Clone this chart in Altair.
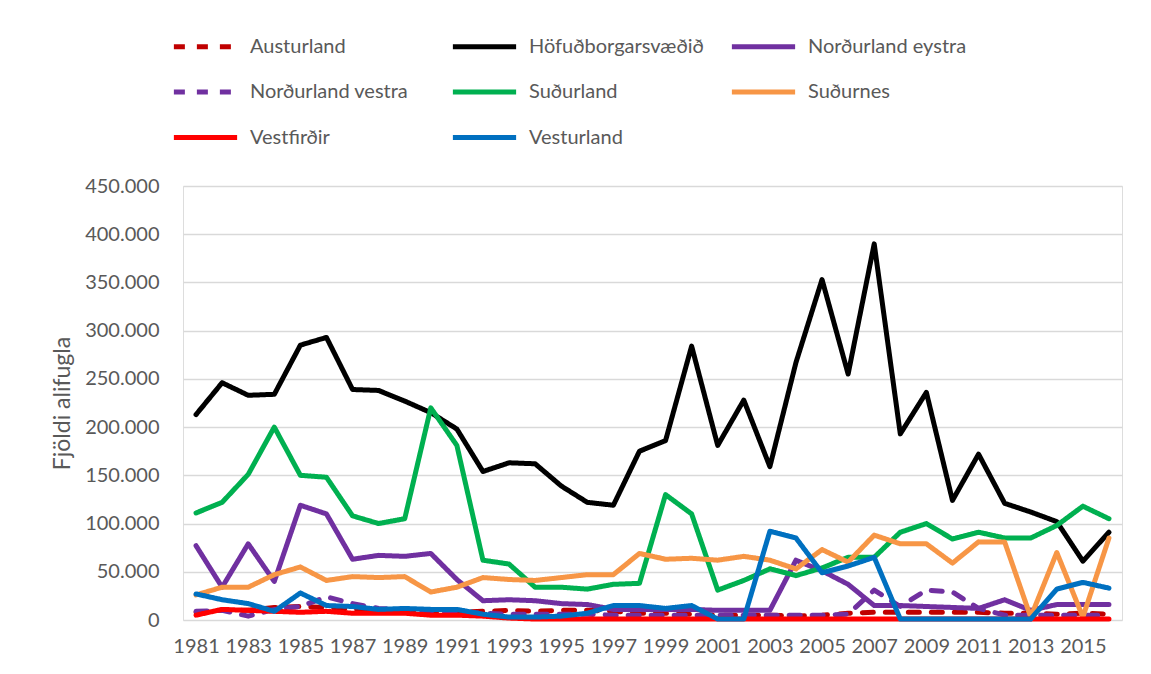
import altair as alt
import pandas as pd

years = list(range(1981, 2017))

series_names = [
    "Austurland", "Höfuðborgarsvæðið", "Norðurland eystra", "Norðurland vestra",
    "Suðurland", "Suðurnes", "Vestfirðir", "Vesturland",
]
series_colors = ["#C00000", "#000000", "#7030A0", "#7030A0",
                 "#00B050", "#F79646", "#FF0000", "#0070C0"]
series_dash = [[11, 12], [1, 0], [1, 0], [11, 12], [1, 0], [1, 0], [1, 0], [1, 0]]

# values in thousands
austurland = [8, 10, 10, 13, 14, 13, 11, 10, 10, 9, 8, 9, 10, 9, 10, 10, 9, 7,
              7, 6, 5, 5, 5, 4, 5, 7, 8, 8, 8, 8, 8, 7, 7, 6, 7, 6]
hofudborg = [213, 246, 233, 234, 285, 293, 239, 238, 227, 215, 198, 154, 163, 162,
             139, 122, 119, 175, 186, 284, 181, 228, 159, 267, 353, 255, 390, 193,
             236, 124, 172, 121, 112, 102, 61, 91]
nl_eystra = [77, 34, 79, 40, 119, 110, 63, 67, 66, 69, 42, 20, 21, 20, 17, 16, 11,
             11, 11, 11, 10, 10, 10, 62, 51, 37, 15, 15, 14, 13, 12, 21, 10, 16, 16, 16]
nl_vestra = [9, 10, 4, 11, 14, 24, 17, 12, 11, 10, 8, 7, 6, 6, 6, 6, 5, 5, 5, 5,
             5, 5, 5, 5, 5, 6, 31, 14, 31, 29, 12, 5, 5, 5, 5, 5]
sudurland = [111, 122, 151, 200, 150, 148, 108, 100, 105, 220, 181, 62, 58, 34, 34,
             32, 37, 38, 130, 110, 31, 41, 53, 46, 54, 65, 65, 91, 100, 84, 91, 85,
             85, 98, 118, 105]
sudurnes = [26, 34, 34, 47, 55, 41, 45, 44, 45, 29, 34, 44, 42, 41, 44, 47, 47, 69,
            63, 64, 62, 66, 62, 53, 73, 60, 88, 79, 79, 59, 81, 81, 3, 70, 3, 85]
vestfirdir = [5, 11, 10, 9, 8, 9, 7, 7, 7, 5, 5, 4, 2, 1, 1, 1, 1, 1, 1, 1, 1, 1,
              1, 1, 1, 1, 1, 1, 1, 1, 1, 1, 1, 1, 1, 1]
vesturland = [27, 21, 17, 9, 28, 15, 14, 11, 12, 11, 11, 6, 3, 3, 4, 7, 15, 15, 12,
              15, 1, 1, 92, 85, 49, 56, 65, 1, 1, 1, 1, 1, 1, 32, 39, 33]

all_series = [austurland, hofudborg, nl_eystra, nl_vestra,
              sudurland, sudurnes, vestfirdir, vesturland]

rows = []
for name, vals in zip(series_names, all_series):
    for yr, v in zip(years, vals):
        rows.append({"Svæði": name, "Ár": yr, "Fjöldi": v * 1000})
df = pd.DataFrame(rows)

FONT = "Lato"
GREY = "#595959"

legend = alt.Legend(
    title=None, orient="none", legendX=-12, legendY=-174, columns=3,
    direction="horizontal",
    symbolType="stroke", symbolSize=4000, symbolStrokeWidth=5,
    labelFontSize=20, labelFont=FONT, labelColor=GREY, labelOffset=10,
    gridAlign="all", columnPadding=17, rowPadding=0.5, labelLimit=300,
)

chart = alt.Chart(df).mark_line(
    strokeWidth=5, strokeCap="round", strokeJoin="round"
).encode(
    x=alt.X("Ár:O", scale=alt.Scale(padding=0.5),
            axis=alt.Axis(title=None, values=years[::2], labelAngle=0,
                          ticks=False, domain=False, labelPadding=16,
                          labelFontSize=20, labelFont=FONT, labelColor=GREY)),
    y=alt.Y("Fjöldi:Q", scale=alt.Scale(domain=[0, 450000]),
            axis=alt.Axis(title="Fjöldi alifugla", values=list(range(0, 450001, 50000)),
                          format=",d", labelExpr="replace(datum.label, ',', '.')",
                          ticks=False, domain=False, labelPadding=24,
                          labelFontSize=20, labelFont=FONT, labelColor=GREY,
                          titleFontSize=23, titleFont=FONT, titleColor=GREY,
                          titleFontWeight="normal", titlePadding=10,
                          gridColor="#D9D9D9", gridWidth=1.5)),
    color=alt.Color("Svæði:N", scale=alt.Scale(domain=series_names, range=series_colors),
                    legend=legend),
    strokeDash=alt.StrokeDash("Svæði:N", scale=alt.Scale(domain=series_names, range=series_dash),
                              legend=legend),
    order=alt.Order("Ár:O"),
).properties(
    width=939, height=434,
    autosize=alt.AutoSizeParams(type="none"),
    padding={"left": 175, "top": 178, "right": 21, "bottom": 46},
).configure_view(stroke=None).configure(background="white")

chart.save("out.html", embed_options={"renderer": "svg", "actions": False})
